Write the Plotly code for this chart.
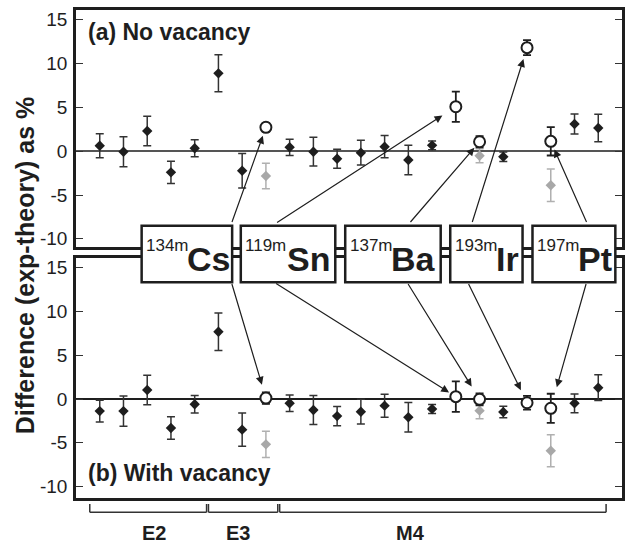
import plotly.graph_objects as go

# ---------------------------------------------------------------- data
# transition slots along the x axis (1..22)
diamond_pos = [1, 2, 3, 4, 5, 6, 7, 9, 10, 11, 12, 13, 14, 15, 18, 21, 22]
diamond_a = [0.63, -0.06, 2.31, -2.41, 0.33, 8.89, -2.23, 0.45, -0.06, -0.86,
             -0.17, 0.51, -1.00, 0.67, -0.63, 3.10, 2.65]
diamond_a_err = [1.37, 1.71, 1.69, 1.27, 0.97, 2.11, 1.96, 0.93, 1.64, 1.08,
                 1.41, 1.27, 1.69, 0.50, 0.53, 1.14, 1.56]
diamond_b = [-1.38, -1.38, 1.03, -3.31, -0.60, 7.69, -3.50, -0.49, -1.25, -1.95,
             -1.45, -0.76, -2.09, -1.14, -1.49, -0.49, 1.29]
diamond_b_err = [1.24, 1.73, 1.68, 1.29, 1.01, 2.15, 1.90, 0.94, 1.66, 1.10,
                 1.41, 1.31, 1.69, 0.51, 0.65, 1.07, 1.47]

# isomer transitions (open circles)
circle_pos = [8, 16, 17, 19, 20]
circle_a = [2.73, 5.08, 1.08, 11.82, 1.13]
circle_a_err = [0.50, 1.73, 0.65, 0.86, 1.62]
circle_b = [0.11, 0.27, -0.03, -0.42, -1.06]
circle_b_err = [0.66, 1.75, 0.68, 0.79, 1.66]

# superseded values (grey diamonds)
grey_pos = [8, 17, 20]
grey_a = [-2.83, -0.51, -3.89]
grey_a_err = [1.46, 0.80, 1.86]
grey_b = [-5.18, -1.33, -5.91]
grey_b_err = [1.50, 0.92, 1.84]

isotopes = ["Cs", "Sn", "Ba", "Ir", "Pt"]
mass_labels = ["134m", "119m", "137m", "193m", "197m"]
isotope_pos = [8, 16, 17, 19, 20]

groups = ["E2", "E3", "M4"]
group_first = [1, 6, 9]
group_last = [5, 8, 22]

yticks = [-10, -5, 0, 5, 10, 15]

# ---------------------------------------------------------------- layout geometry
W, H = 628, 546
ML, MR, MT, MB = 76, 3, 10, 48
PW, PH = W - ML - MR, H - MT - MB
XR = [0, 23]
YR_A = [-10.97, 16.12]
YR_B = [-11.31, 16.08]
DOM_A = [0.5137, 1.0]
DOM_B = [0.0, 0.4912]


def px_x(px):
    return XR[0] + (px - ML) / PW * (XR[1] - XR[0])


def px_to_paper_x(px):
    return (px - ML) / PW


def px_to_paper_y(py):
    return (H - MB - py) / PH


def px_y(py, dom, rng):
    top = MT + (1 - dom[1]) * PH
    bot = MT + (1 - dom[0]) * PH
    return rng[1] - (py - top) / (bot - top) * (rng[1] - rng[0])


FONT = "Liberation Sans, Arial, Helvetica, sans-serif"
INK = "#1e1e1e"

fig = go.Figure()


def add_panel(xa, ya, d, d_err, c, c_err, g, g_err):
    fig.add_trace(go.Scatter(
        x=grey_pos, y=g, mode="markers", xaxis=xa, yaxis=ya,
        marker=dict(symbol="diamond", size=8, color="#a8a8a8"),
        error_y=dict(type="data", array=g_err, color="#b0b0b0", thickness=1.5, width=4),
    ))
    fig.add_trace(go.Scatter(
        x=diamond_pos, y=d, mode="markers", xaxis=xa, yaxis=ya,
        marker=dict(symbol="diamond", size=8, color=INK),
        error_y=dict(type="data", array=d_err, color="#333333", thickness=1.5, width=4),
    ))
    fig.add_trace(go.Scatter(
        x=circle_pos, y=c, mode="markers", xaxis=xa, yaxis=ya,
        marker=dict(symbol="circle", size=11, color="white", line=dict(color=INK, width=2)),
        error_y=dict(type="data", array=c_err, color=INK, thickness=1.8, width=4),
    ))


add_panel("x", "y", diamond_a, diamond_a_err, circle_a, circle_a_err, grey_a, grey_a_err)
add_panel("x2", "y2", diamond_b, diamond_b_err, circle_b, circle_b_err, grey_b, grey_b_err)

xax = dict(range=XR, showline=True, mirror=True, linewidth=2.5, linecolor=INK,
           showgrid=False, zeroline=False, showticklabels=False, ticks="")
yax = dict(tickvals=yticks, ticktext=[str(v) for v in yticks], ticks="inside",
           ticklen=7, tickwidth=1.2, tickcolor="#333", mirror="ticks", showline=True,
           linewidth=2.5, linecolor=INK, showgrid=False, zeroline=True,
           zerolinewidth=1.5, tickfont=dict(family=FONT, size=19, color=INK),
           ticklabelstandoff=2)

fig.update_layout(
    width=W, height=H,
    margin=dict(l=ML, r=MR, t=MT, b=MB),
    paper_bgcolor="white", plot_bgcolor="white", showlegend=False,
    xaxis=dict(xax, anchor="y", domain=[0, 1]),
    xaxis2=dict(xax, anchor="y2", domain=[0, 1]),
    yaxis=dict(yax, anchor="x", domain=DOM_A, range=YR_A, zerolinecolor="#555"),
    yaxis2=dict(yax, anchor="x2", domain=DOM_B, range=YR_B, zerolinecolor=INK),
)

# ---------------------------------------------------------------- isotope boxes
box_left = [142, 241.7, 346.7, 452.3, 535]
box_right = [233, 336.7, 442.7, 525, 618.3]
box_top, box_bot = 225.7, 282.3
shapes = []
annotations = []
for i, iso in enumerate(isotopes):
    shapes.append(dict(type="rect", xref="paper", yref="paper", layer="above",
                       x0=px_to_paper_x(box_left[i]), x1=px_to_paper_x(box_right[i]),
                       y0=px_to_paper_y(box_bot), y1=px_to_paper_y(box_top),
                       line=dict(color=INK, width=2.5), fillcolor="white"))
    annotations.append(dict(xref="paper", yref="paper", showarrow=False,
                            x=px_to_paper_x(box_left[i] + 3.5), y=px_to_paper_y(245),
                            xanchor="left", yanchor="middle", borderpad=0,
                            text=mass_labels[i],
                            font=dict(family=FONT, size=17, color=INK)))
    annotations.append(dict(xref="paper", yref="paper", showarrow=False,
                            x=px_to_paper_x(box_left[i] + 45), y=px_to_paper_y(258.5),
                            xanchor="left", yanchor="middle", borderpad=0,
                            text="<b>%s</b>" % iso,
                            font=dict(family=FONT, size=34, color=INK)))

# arrows from each box to its isomer point in both panels
tail_a_px = [232.3, 276.7, 411, 474, 590]
tail_b_px = [232.3, 275.7, 409, 470, 589.3]
standoff_a = [9, 16, 8, 12, 9]
standoff_b = [14, 8, 15, 14, 22]
for i in range(len(isotopes)):
    k = circle_pos.index(isotope_pos[i])
    annotations.append(dict(
        xref="x", yref="y", axref="x", ayref="y",
        x=circle_pos[k], y=circle_a[k],
        ax=px_x(tail_a_px[i]), ay=px_y(223.5, DOM_A, YR_A),
        showarrow=True, arrowhead=2, arrowsize=1.3, arrowwidth=1.2,
        arrowcolor=INK, standoff=standoff_a[i], text=""))
    annotations.append(dict(
        xref="x2", yref="y2", axref="x2", ayref="y2",
        x=circle_pos[k], y=circle_b[k],
        ax=px_x(tail_b_px[i]), ay=px_y(282.5, DOM_B, YR_B),
        showarrow=True, arrowhead=2, arrowsize=1.3, arrowwidth=1.2,
        arrowcolor=INK, standoff=standoff_b[i], text=""))

# panel captions
annotations.append(dict(xref="paper", yref="paper", showarrow=False,
                        x=px_to_paper_x(86), y=px_to_paper_y(32.5),
                        xanchor="left", yanchor="middle", text="<b>(a) No vacancy</b>",
                        font=dict(family=FONT, size=23, color=INK)))
annotations.append(dict(xref="paper", yref="paper", showarrow=False,
                        x=px_to_paper_x(86), y=px_to_paper_y(472.5),
                        xanchor="left", yanchor="middle", text="<b>(b) With vacancy</b>",
                        font=dict(family=FONT, size=23, color=INK)))

# shared y-axis title
annotations.append(dict(xref="paper", yref="paper", showarrow=False,
                        x=px_to_paper_x(25), y=px_to_paper_y(265),
                        xanchor="center", yanchor="middle", textangle=-90,
                        text="<b>Difference (exp-theory) as %</b>",
                        font=dict(family=FONT, size=25, color=INK)))

# multipolarity brackets under the lower panel
label_x = [3.27, 6.84, 14.1]
for i, g in enumerate(groups):
    x0 = group_first[i] - 0.42
    x1 = group_last[i] + (0.5 if i < 2 else 0.33)
    yb = px_to_paper_y(512.3)
    yt = px_to_paper_y(504)
    for seg in [(x0, yt, x0, yb), (x0, yb, x1, yb), (x1, yb, x1, yt)]:
        shapes.append(dict(type="line", xref="x2", yref="paper",
                           x0=seg[0], y0=seg[1], x1=seg[2], y1=seg[3],
                           line=dict(color="#333", width=1.5)))
    annotations.append(dict(xref="x2", yref="paper", showarrow=False,
                            x=label_x[i], y=px_to_paper_y(533),
                            xanchor="center", yanchor="middle",
                            text="<b>%s</b>" % g,
                            font=dict(family=FONT, size=20, color=INK)))

fig.update_layout(shapes=shapes, annotations=annotations)
fig.write_html("out.html")
